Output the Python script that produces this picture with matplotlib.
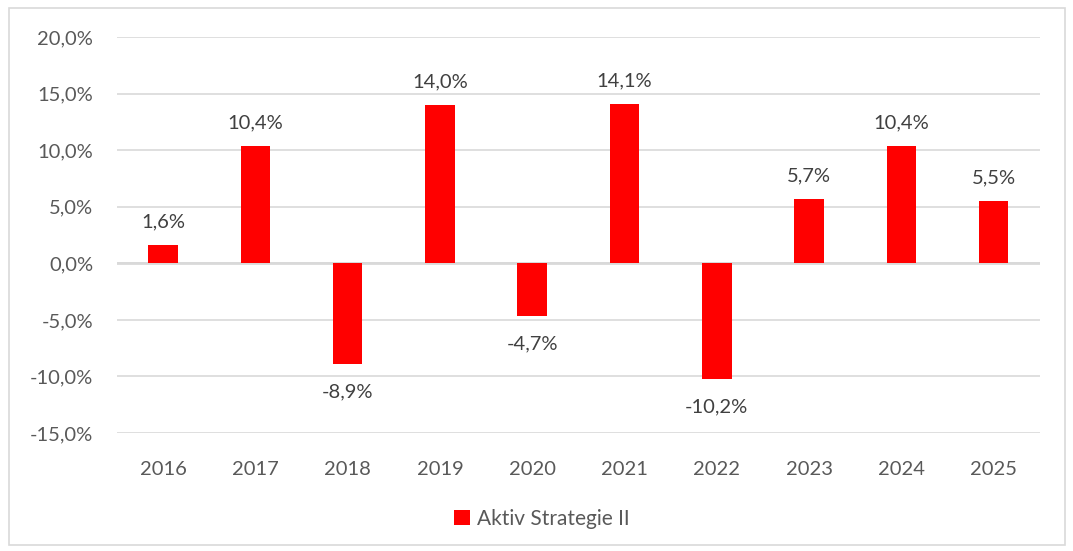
import matplotlib.pyplot as plt
from matplotlib.patches import Rectangle

years = ["2016", "2017", "2018", "2019", "2020", "2021", "2022", "2023", "2024", "2025"]
returns = [1.6, 10.4, -8.9, 14.0, -4.7, 14.1, -10.2, 5.7, 10.4, 5.5]
series_name = "Aktiv Strategie II"

RED = "#ff0000"
TXT = "#595959"
GRID = "#d9d9d9"
FS = 14.5

plt.rcParams['font.family'] = ['Lato', 'DejaVu Sans']

fig = plt.figure(figsize=(10.73, 5.51), dpi=100)
ax = fig.add_axes([0.109, 0.214, 0.86, 0.719])

x = list(range(len(years)))
ax.bar(x, returns, width=0.32, color=RED, zorder=3, label=series_name)

for xi, v in zip(x, returns):
    lab = f"{v:.1f}%".replace(".", ",")
    off = 16.5 if v >= 0 else -20
    ax.annotate(lab, (xi, v), xytext=(0, off), textcoords="offset points",
                ha="center", va="center", fontsize=FS, color="#404040")

ax.set_ylim(-15, 20)
ax.set_xlim(-0.5, 9.5)
yt = list(range(-15, 21, 5))
ax.set_yticks(yt)
ax.set_yticklabels([f"{t:.1f}%".replace(".", ",") for t in yt])
ax.set_xticks(x)
ax.set_xticklabels(years)
ax.tick_params(axis="both", length=0, labelsize=FS, colors=TXT)
ax.tick_params(axis="y", pad=17)
ax.tick_params(axis="x", pad=20)
ax.grid(axis="y", color=GRID, linewidth=1.2, zorder=0)
ax.axhline(0, color=GRID, linewidth=2, zorder=1)
for s in ax.spines.values():
    s.set_visible(False)

leg = fig.legend(loc="center", bbox_to_anchor=(0.505, 0.058), frameon=False,
                 fontsize=FS + 0.5, handlelength=0.75, handleheight=0.75, handletextpad=0.35)
for t in leg.get_texts():
    t.set_color(TXT)

fig.patches.append(Rectangle((0.008, 0.01), 0.985, 0.975, transform=fig.transFigure,
                             fill=False, edgecolor="#d9d9d9", linewidth=1.2))

fig.savefig("out.png", dpi=100)
